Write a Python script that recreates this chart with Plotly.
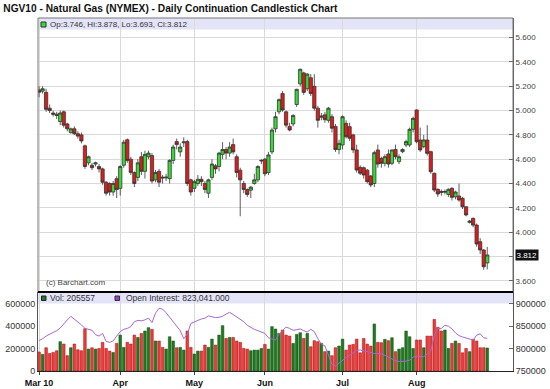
import plotly.graph_objects as go

# ---------------- data ----------------
month_days = {
    3: [1,2,3,4,5,8,9,10,11,12,15,16,17,18,19,22,23,24,25,26,29,30,31],
    4: [1,5,6,7,8,9,12,13,14,15,16,19,20,21,22,23,26,27,28,29,30],
    5: [3,4,5,6,7,10,11,12,13,14,17,18,19,20,21,24,25,26,27,28],
    6: [1,2,3,4,7,8,9,10,11,14,15,16,17,18,21,22,23,24,25,28,29,30],
    7: [1,2,6,7,8,9,12,13,14,15,16,19,20,21,22,23,26,27,28,29,30],
    8: [2,3,4,5,6,9,10,11,12,13,16,17,18,19,20,23,24,25,26,27,30],
}
dates = [f"2010-{m:02d}-{d:02d}" for m, days in month_days.items() for d in days]

opens = [5.17,5.16,5.15,5.02,4.98,4.97,4.91,4.99,4.89,4.82,4.85,4.81,4.80,4.71,4.57,4.55,4.56,4.54,4.52,4.41,4.40,4.33,4.44,
         4.36,4.55,4.76,4.60,4.49,4.45,4.62,4.50,4.62,4.63,4.43,4.50,4.452,4.446,4.44,4.59,4.745,4.66,4.735,4.745,4.43,
         4.36,4.40,4.435,4.40,4.32,4.45,4.545,4.54,4.64,4.68,4.65,4.72,4.62,4.51,4.40,4.35,4.345,4.40,4.43,4.585,
         4.60,4.49,4.66,4.85,4.99,5.14,4.99,4.87,4.89,5.05,5.22,5.31,5.18,5.27,5.20,5.02,4.945,4.965,4.92,4.95,4.87,4.68,
         4.717,4.895,4.868,4.80,4.676,4.533,4.53,4.51,4.462,4.40,4.676,4.607,4.566,4.643,4.566,4.68,4.58,4.662,4.717,4.717,4.846,
         5.005,4.758,4.703,4.758,4.662,4.484,4.352,4.335,4.328,4.31,4.36,4.29,4.297,4.278,4.209,4.08,4.113,4.058,3.921,3.853,3.746]
highs = [5.20,5.20,5.18,5.05,5.00,4.99,5.00,5.00,4.90,4.86,4.87,4.83,4.82,4.72,4.63,4.57,4.58,4.56,4.53,4.42,4.41,4.42,4.46,
         4.55,4.76,4.77,4.62,4.50,4.60,4.66,4.67,4.67,4.65,4.51,4.52,4.47,4.48,4.60,4.72,4.77,4.73,4.78,4.76,4.44,
         4.43,4.47,4.46,4.42,4.44,4.60,4.56,4.66,4.74,4.70,4.74,4.77,4.64,4.53,4.42,4.36,4.38,4.48,4.55,4.60,
         4.61,4.66,4.86,4.99,5.10,5.16,5.00,4.90,4.97,5.18,5.345,5.32,5.31,5.30,5.30,5.04,4.98,4.99,5.03,4.97,4.89,4.76,
         4.96,4.92,4.90,4.81,4.72,4.55,4.54,4.52,4.47,4.67,4.72,4.62,4.64,4.68,4.68,4.72,4.64,4.69,4.76,4.86,4.95,
         5.01,4.86,4.80,4.88,4.67,4.49,4.36,4.35,4.35,4.36,4.37,4.34,4.40,4.29,4.21,4.10,4.12,4.07,3.95,3.86,3.878]
lows = [5.11,5.14,4.99,4.98,4.95,4.93,4.88,4.86,4.83,4.81,4.80,4.77,4.73,4.52,4.55,4.51,4.54,4.49,4.39,4.30,4.30,4.30,4.28,
        4.30,4.53,4.57,4.47,4.37,4.42,4.47,4.44,4.60,4.40,4.41,4.37,4.40,4.42,4.40,4.56,4.68,4.62,4.70,4.38,4.30,
        4.33,4.38,4.38,4.32,4.28,4.43,4.48,4.50,4.60,4.60,4.62,4.64,4.45,4.13,4.32,4.29,4.28,4.39,4.41,4.56,
        4.46,4.47,4.64,4.82,4.97,4.99,4.86,4.83,4.87,5.03,5.20,5.13,5.16,5.12,5.00,4.86,4.92,4.90,4.90,4.82,4.66,4.64,
        4.68,4.77,4.75,4.65,4.49,4.47,4.44,4.40,4.37,4.37,4.53,4.53,4.54,4.53,4.55,4.60,4.56,4.65,4.70,4.70,4.82,
        4.73,4.66,4.69,4.63,4.48,4.33,4.29,4.30,4.31,4.29,4.26,4.27,4.25,4.19,4.13,4.07,4.04,3.88,3.82,3.69,3.693]
closes = [5.15,5.18,5.01,5.00,4.97,4.96,4.98,4.88,4.85,4.85,4.81,4.79,4.75,4.54,4.62,4.53,4.57,4.52,4.41,4.32,4.33,4.40,4.35,
          4.54,4.74,4.59,4.49,4.40,4.57,4.50,4.64,4.65,4.42,4.49,4.41,4.446,4.452,4.59,4.70,4.72,4.70,4.742,4.40,4.33,
          4.415,4.435,4.415,4.35,4.43,4.56,4.52,4.65,4.68,4.65,4.70,4.66,4.49,4.43,4.35,4.31,4.37,4.43,4.54,4.59,
          4.48,4.635,4.84,4.95,5.09,5.005,4.88,4.84,4.96,5.175,5.34,5.15,5.30,5.14,5.02,4.92,4.955,4.925,5.02,4.855,4.68,4.73,
          4.95,4.785,4.772,4.676,4.511,4.484,4.47,4.415,4.388,4.654,4.56,4.566,4.621,4.56,4.676,4.62,4.62,4.68,4.745,4.846,4.936,
          4.744,4.676,4.758,4.648,4.497,4.346,4.314,4.328,4.334,4.352,4.286,4.33,4.264,4.209,4.141,4.09,4.058,3.902,3.853,3.715,3.812]

volume = [170000,149000,208000,157000,166000,181000,262000,241000,137000,208000,241000,190000,181000,378000,196000,208000,196000,202000,256000,202000,178000,166000,247000,
          321000,211000,256000,241000,321000,300000,336000,357000,387000,372000,268000,268000,211000,196000,306000,268000,208000,211000,187000,357000,211000,
          152000,178000,178000,232000,211000,285000,232000,321000,405000,291000,300000,300000,268000,256000,202000,196000,181000,187000,187000,202000,
          238000,196000,396000,375000,336000,366000,321000,312000,247000,327000,342000,292000,336000,217000,271000,262000,247000,173000,178000,137000,208000,223000,
          285000,187000,232000,238000,285000,163000,291000,241000,223000,420000,256000,253000,283000,271000,297000,173000,196000,208000,357000,306000,202000,
          277000,277000,208000,312000,312000,461000,390000,357000,366000,202000,247000,268000,247000,163000,202000,173000,283000,268000,208000,208000,205557]

open_interest = [818000,822000,828000,832000,836000,840000,846000,856000,864000,872000,866000,860000,853000,845000,843000,841000,831000,828000,834000,816000,814000,817000,828000,
                 838000,843000,845000,849000,860000,863000,862000,864000,868000,858000,879000,890000,888000,880000,870000,860000,852000,840000,822000,832000,856000,
                 860000,863000,866000,868000,873000,871000,869000,870000,872000,877000,881000,876000,871000,865000,860000,852000,847000,843000,840000,837000,
                 834000,824000,821000,819000,832000,840000,848000,845000,841000,842000,844000,840000,837000,843000,838000,822000,810000,806000,785000,765000,761000,768000,
                 774000,780000,785000,790000,796000,797000,795000,793000,791000,789000,789000,788000,785000,781000,776000,773000,771000,771000,772000,774000,781000,
                 783000,783000,782000,788000,795000,830000,845000,845000,852000,850000,844000,835000,829000,826000,824000,822000,819000,830000,833000,824000,823041]

month_ticks = ["2010-03-01", "2010-04-01", "2010-05-03", "2010-06-01", "2010-07-01", "2010-08-02"]
month_labels = ["Mar 10", "Apr", "May", "Jun", "Jul", "Aug"]
price_ticks = [3.6, 3.8, 4.0, 4.2, 4.4, 4.6, 4.8, 5.0, 5.2, 5.4, 5.6]
vol_ticks = [0, 200000, 400000, 600000]
oi_ticks = [750000, 800000, 850000, 900000]

title_text = "NGV10 - Natural Gas (NYMEX) - Daily Continuation Candlestick Chart"
ohlc_text = "Op:3.746, Hi:3.878, Lo:3.693, Cl:3.812"
vol_text = "Vol: 205557"
oi_text = "Open Interest: 823,041.000"
last_close = closes[-1]

# ---------------- styling ----------------
FONT = "Arial, Liberation Sans, sans-serif"
GREEN = "#33dd33"
RED = "#dd1c1c"
VGREEN = "#1f7a1f"
VRED = "#f03a3a"
GRID = "#dadada"
BAND = "#e4e4f8"
SPLIT = 79 / 353  # fraction of plot height for volume panel

vol_colors = [VGREEN if c >= o else VRED for o, c in zip(opens, closes)]
vol_edges = ["#0f4f0f" if c >= o else "#a01515" for o, c in zip(opens, closes)]
# the last-price tag covers the 3.800 label
price_text = ["" if abs(v - last_close) < 0.05 else f"{v:.3f}" for v in price_ticks]

fig = go.Figure()
fig.add_trace(go.Candlestick(
    x=dates, open=opens, high=highs, low=lows, close=closes,
    xaxis="x2", yaxis="y",
    increasing=dict(fillcolor=GREEN, line=dict(color="#333333", width=0.8)),
    decreasing=dict(fillcolor=RED, line=dict(color="#333333", width=0.8)),
    whiskerwidth=0, showlegend=False, hoverinfo="skip",
))
fig.add_trace(go.Bar(
    x=dates, y=volume, xaxis="x", yaxis="y2",
    marker=dict(color=vol_colors, line=dict(color=vol_edges, width=0.5)),
    showlegend=False, hoverinfo="skip",
))
fig.add_trace(go.Scatter(
    x=dates, y=open_interest, xaxis="x", yaxis="y3", mode="lines",
    line=dict(color="#a468d4", width=1), showlegend=False, hoverinfo="skip",
))

xrange = [-0.3, len(dates) - 1 + 7.3]
fig.update_layout(
    width=550, height=389,
    margin=dict(l=38, r=37, t=18, b=18, autoexpand=False),
    paper_bgcolor="white", plot_bgcolor="white",
    bargap=0.25, boxgap=0.08, boxgroupgap=0,
    font=dict(family=FONT, size=8, color="#333"),
    title=dict(text=title_text, x=0.006, xanchor="left", xref="container",
               y=1 - 8 / 389, yanchor="middle", yref="container",
               font=dict(family=FONT, size=10.2, color="#111", weight="bold")),
    xaxis=dict(type="category", domain=[0, 1], anchor="y2", range=xrange,
               automargin=False,
               tickvals=month_ticks, ticktext=month_labels,
               tickfont=dict(family=FONT, size=9, color="#111", weight="bold"),
               showgrid=True, gridcolor=GRID, gridwidth=1,
               ticks="outside", ticklen=3, tickcolor="#444",
               showline=True, linecolor="#222", linewidth=1, zeroline=False),
    xaxis2=dict(type="category", matches="x", anchor="y", range=xrange,
                automargin=False,
                tickvals=month_ticks, showticklabels=False,
                showgrid=True, gridcolor=GRID, gridwidth=1, ticks="",
                rangeslider=dict(visible=False), showline=False, zeroline=False),
    yaxis=dict(domain=[SPLIT, 1], anchor="x2", side="right",
               automargin=False,
               range=[3.507, 5.762], tickvals=price_ticks, ticktext=price_text,
               tickfont=dict(family=FONT, size=8, color="#444"),
               showgrid=True, gridcolor=GRID, gridwidth=1,
               ticks="inside", ticklen=4, tickcolor="#666",
               showline=True, linecolor="#555", linewidth=1, zeroline=False),
    yaxis2=dict(domain=[0, SPLIT], anchor="x", side="left",
                automargin=False,
                range=[0, 705400], tickvals=vol_ticks,
                ticktext=[str(v) for v in vol_ticks],
                tickfont=dict(family=FONT, size=9, color="#333"),
                showgrid=False, ticks="", showline=True, linecolor="#555",
                linewidth=1, zeroline=False),
    yaxis3=dict(overlaying="y2", anchor="x", side="right",
                automargin=False,
                range=[750000, 926300], tickvals=oi_ticks,
                ticktext=[str(v) for v in oi_ticks],
                tickfont=dict(family=FONT, size=9, color="#333"),
                showgrid=False, ticks="inside", ticklen=4, tickcolor="#666",
                showline=True, linecolor="#555", linewidth=1, zeroline=False),
)

def px_y(ypix):
    return (371 - ypix) / 353

def px_x(xpix):
    return (xpix - 38) / 475

shapes = [
    dict(type="rect", xref="paper", yref="paper", x0=0, x1=1, y0=px_y(29.5), y1=1,
         fillcolor=BAND, line=dict(width=0), layer="below"),
    dict(type="rect", xref="paper", yref="paper", x0=0, x1=1, y0=px_y(303.5), y1=SPLIT,
         fillcolor=BAND, line=dict(width=0), layer="below"),
    dict(type="rect", xref="paper", yref="paper", x0=0, x1=1, y0=SPLIT, y1=1,
         line=dict(color="#777", width=1), fillcolor="rgba(0,0,0,0)"),
    dict(type="line", xref="paper", yref="paper", x0=0, x1=1, y0=SPLIT, y1=SPLIT,
         line=dict(color="#000", width=2)),
    dict(type="rect", xref="paper", yref="paper", x0=px_x(41), x1=px_x(46),
         y0=px_y(27), y1=px_y(22), fillcolor=GREEN, line=dict(color="#333", width=1)),
    dict(type="rect", xref="paper", yref="paper", x0=px_x(41.5), x1=px_x(46),
         y0=px_y(300.5), y1=px_y(296), fillcolor=VGREEN, line=dict(color="#222", width=1)),
    dict(type="rect", xref="paper", yref="paper", x0=px_x(115), x1=px_x(119.5),
         y0=px_y(300.5), y1=px_y(296), fillcolor="#9a3fd0", line=dict(color="#333", width=1)),
]
fig.update_layout(shapes=shapes)

annots = [
    dict(text=ohlc_text, xref="paper", yref="paper", x=px_x(48), y=px_y(24.5),
         xanchor="left", yanchor="middle", showarrow=False,
         font=dict(family=FONT, size=8, color="#333")),
    dict(text=vol_text, xref="paper", yref="paper", x=px_x(48), y=px_y(298.3),
         xanchor="left", yanchor="middle", showarrow=False,
         font=dict(family=FONT, size=8.5, color="#333")),
    dict(text=oi_text, xref="paper", yref="paper", x=px_x(123.5), y=px_y(298.3),
         xanchor="left", yanchor="middle", showarrow=False,
         font=dict(family=FONT, size=8.5, color="#333")),
    dict(text="(c) Barchart.com", xref="paper", yref="paper", x=px_x(44), y=px_y(282),
         xanchor="left", yanchor="middle", showarrow=False,
         font=dict(family=FONT, size=8, color="#444")),
    dict(text=f"{last_close:.3f}", xref="paper", yref="y", x=1, y=last_close,
         xanchor="left", yanchor="middle", xshift=2, showarrow=False,
         bgcolor="#111", borderpad=0.5,
         font=dict(family=FONT, size=8, color="white")),
]
fig.update_layout(annotations=annots)

fig.write_html("out.html", config={"displayModeBar": False},
               post_script="document.body.style.margin='0px';")
